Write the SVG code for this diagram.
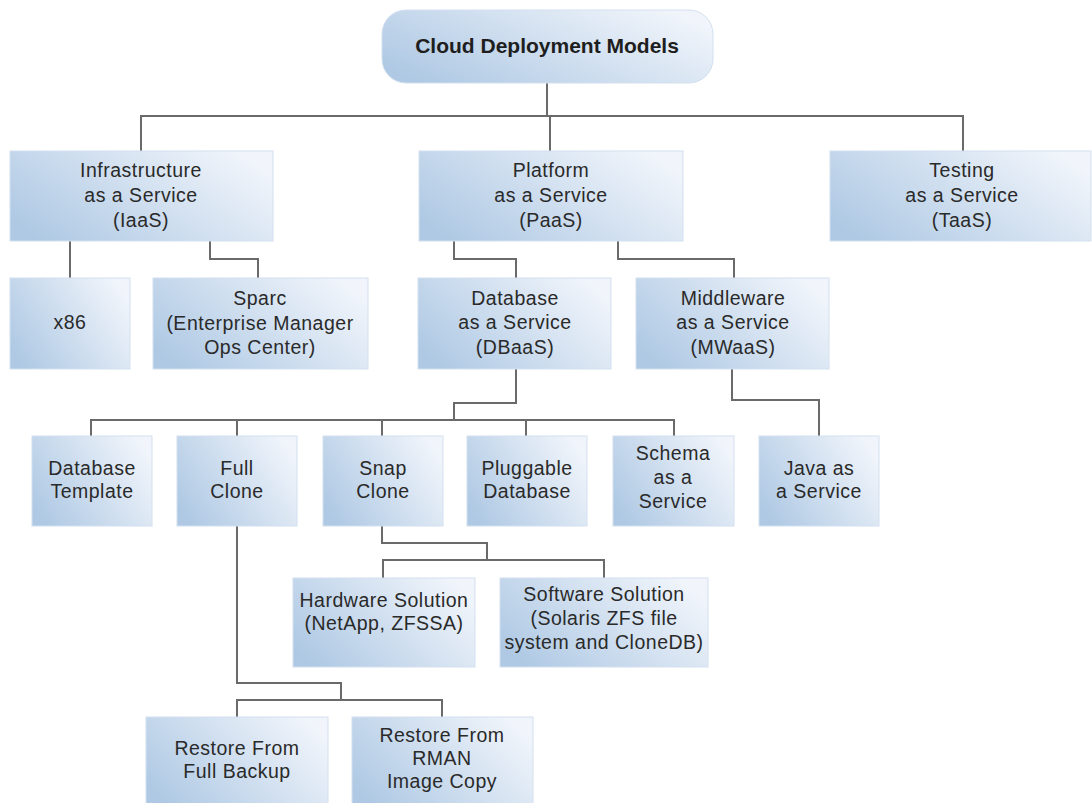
<svg xmlns="http://www.w3.org/2000/svg" width="1092" height="803" viewBox="0 0 1092 803">
<defs>
<linearGradient id="g" x1="0" y1="0.75" x2="1" y2="0.25">
<stop offset="0" stop-color="#afc9e4"/>
<stop offset="1" stop-color="#f1f5fb"/>
</linearGradient>
<style>
.box{fill:url(#g);stroke:#d3e0ef;stroke-width:1}
.t{font-family:"Liberation Sans",Arial,sans-serif;font-size:19.5px;fill:#2a2a2a;text-anchor:middle;letter-spacing:0.5px}
.title{font-family:"Liberation Sans",Arial,sans-serif;font-size:21px;font-weight:bold;fill:#1e1e1e;text-anchor:middle}
.c{fill:none;stroke:#6a6a6a;stroke-width:2}
</style>
</defs>
<rect width="1092" height="803" fill="#ffffff"/>
<g id="connectors">
<path class="c" d="M547 83V116M141 151V116H963V151M550 116V151"/>
<path class="c" d="M70 241V278M210 241V259H258V278"/>
<path class="c" d="M454 241V259H516V278M618 241V259H734V278"/>
<path class="c" d="M516 369V403H454V420M91 436V420H674V436M237 420V436M382 420V436M526 420V436"/>
<path class="c" d="M732 369V400H819V436"/>
<path class="c" d="M382 526V543H487V560M383 578V560H604V578"/>
<path class="c" d="M237 526V683H341V700M237 717V700H442V717"/>
</g>
<g id="n-cloud">
<rect class="box" x="382" y="10" width="331" height="73" rx="24" ry="24"/>
<text class="title" x="547" y="53">Cloud Deployment Models</text>
</g>
<g id="n-iaas">
<rect class="box" x="10" y="151" width="263" height="90"/>
<text class="t" x="141" y="177">Infrastructure</text>
<text class="t" x="141" y="202">as a Service</text>
<text class="t" x="141" y="227">(IaaS)</text>
</g>
<g id="n-paas">
<rect class="box" x="419" y="151" width="264" height="90"/>
<text class="t" x="551" y="177">Platform</text>
<text class="t" x="551" y="202">as a Service</text>
<text class="t" x="551" y="227">(PaaS)</text>
</g>
<g id="n-taas">
<rect class="box" x="830" y="151" width="261" height="90"/>
<text class="t" x="962" y="177">Testing</text>
<text class="t" x="962" y="202">as a Service</text>
<text class="t" x="962" y="227">(TaaS)</text>
</g>
<g id="n-x86">
<rect class="box" x="10" y="278" width="120" height="91"/>
<text class="t" x="70" y="329">x86</text>
</g>
<g id="n-sparc">
<rect class="box" x="153" y="278" width="215" height="91"/>
<text class="t" x="260" y="305">Sparc</text>
<text class="t" x="260" y="330">(Enterprise Manager</text>
<text class="t" x="260" y="354">Ops Center)</text>
</g>
<g id="n-dbaas">
<rect class="box" x="418" y="278" width="193" height="91"/>
<text class="t" x="515" y="305">Database</text>
<text class="t" x="515" y="329">as a Service</text>
<text class="t" x="515" y="354">(DBaaS)</text>
</g>
<g id="n-mwaas">
<rect class="box" x="636" y="278" width="193" height="91"/>
<text class="t" x="733" y="305">Middleware</text>
<text class="t" x="733" y="329">as a Service</text>
<text class="t" x="733" y="354">(MWaaS)</text>
</g>
<g id="n-dbtemplate">
<rect class="box" x="32" y="436" width="120" height="90"/>
<text class="t" x="92" y="475">Database</text>
<text class="t" x="92" y="498">Template</text>
</g>
<g id="n-fullclone">
<rect class="box" x="177" y="436" width="120" height="90"/>
<text class="t" x="237" y="475">Full</text>
<text class="t" x="237" y="498">Clone</text>
</g>
<g id="n-snapclone">
<rect class="box" x="323" y="436" width="120" height="90"/>
<text class="t" x="383" y="475">Snap</text>
<text class="t" x="383" y="498">Clone</text>
</g>
<g id="n-pluggable">
<rect class="box" x="467" y="436" width="120" height="90"/>
<text class="t" x="527" y="475">Pluggable</text>
<text class="t" x="527" y="498">Database</text>
</g>
<g id="n-schema">
<rect class="box" x="613" y="436" width="121" height="90"/>
<text class="t" x="673" y="460">Schema</text>
<text class="t" x="673" y="484">as a</text>
<text class="t" x="673" y="508">Service</text>
</g>
<g id="n-java">
<rect class="box" x="759" y="436" width="120" height="90"/>
<text class="t" x="819" y="475">Java as</text>
<text class="t" x="819" y="498">a Service</text>
</g>
<g id="n-hardware">
<rect class="box" x="293" y="578" width="182" height="89"/>
<text class="t" x="384" y="607">Hardware Solution</text>
<text class="t" x="384" y="630">(NetApp, ZFSSA)</text>
</g>
<g id="n-software">
<rect class="box" x="500" y="578" width="208" height="89"/>
<text class="t" x="604" y="601">Software Solution</text>
<text class="t" x="604" y="625">(Solaris ZFS file</text>
<text class="t" x="604" y="649">system and CloneDB)</text>
</g>
<g id="n-restorefull">
<rect class="box" x="146" y="717" width="182" height="90"/>
<text class="t" x="237" y="755">Restore From</text>
<text class="t" x="237" y="778">Full Backup</text>
</g>
<g id="n-restorerman">
<rect class="box" x="352" y="717" width="181" height="90"/>
<text class="t" x="442" y="742">Restore From</text>
<text class="t" x="442" y="765">RMAN</text>
<text class="t" x="442" y="788">Image Copy</text>
</g>
</svg>
